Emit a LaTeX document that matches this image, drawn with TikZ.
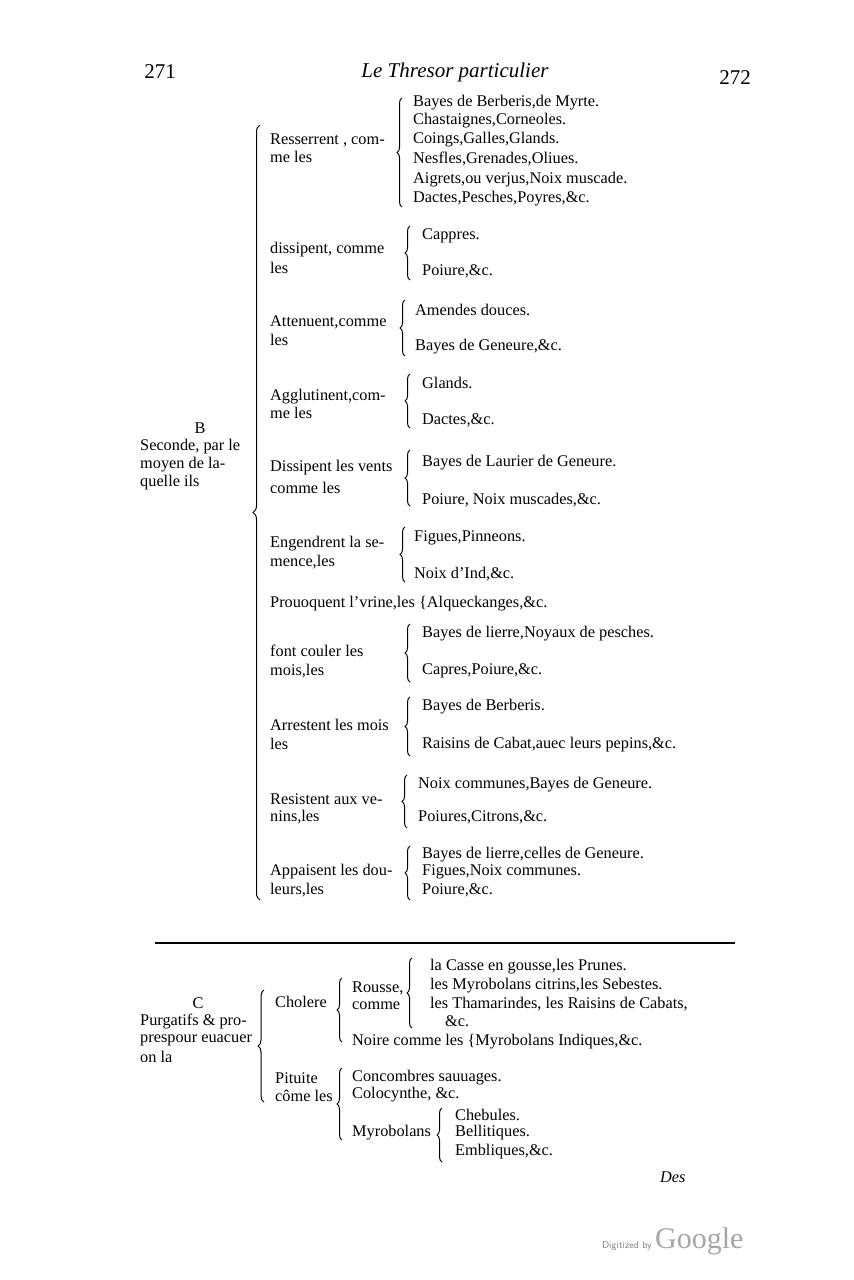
\documentclass[tikz,border=0pt]{standalone}
\usepackage{fontspec}
\setmainfont{Liberation Serif}
\usetikzlibrary{decorations.pathreplacing}
\begin{document}
\begin{tikzpicture}[x=1pt,y=-1pt,
  t/.style={anchor=west,inner sep=0pt,font=\fontsize{16.3}{17}\selectfont},
  br/.style={decorate,decoration={brace,amplitude=5pt},line width=1pt}]
\useasboundingbox (0,0) rectangle (854,1280);
\fill[white] (0,0) rectangle (854,1280);
\node[inner sep=0,font=\fontsize{21}{21}\selectfont] (p1) at (160,72) {271};
\node[inner sep=0,font=\fontsize{21}{21}\selectfont\itshape] (ti) at (455,72) {Le Thresor particulier};
\node[inner sep=0,font=\fontsize{21}{21}\selectfont] (p2) at (735,78) {272};
% B
\node[inner sep=0,font=\fontsize{16.3}{17}\selectfont] (B) at (200,428) {B};
\node[t] (b1) at (140,447) {Seconde, par le};
\node[t] (b2) at (140,465) {moyen de la-};
\node[t] (b3) at (140,483) {quelle ils};
\draw[br,decoration={amplitude=7pt}] (260,900) -- (260,125);
% groups
\node[t] (g1a) at (270,140) {Resserrent , com-};
\node[t] (g1b) at (270,157) {me les};
\draw[br] (402,207) -- (402,98);
\foreach \y/\s [count=\i] in {103/{Bayes de Berberis,de Myrte.},121/{Chastaignes,Corneoles.},140/{Coings,Galles,Glands.},159/{Nesfles,Grenades,Oliues.},180/{Aigrets,ou verjus,Noix muscade.},199/{Dactes,Pesches,Poyres,\&c.}}
  \node[t] (i1\i) at (413,\y) {\s};
\node[t] (g2a) at (270,250) {dissipent, comme};
\node[t] (g2b) at (270,268) {les};
\draw[br] (410,280) -- (410,226);
\node[t] (i21) at (422,236) {Cappres.};
\node[t] (i22) at (422,271) {Poiure,\&c.};
\node[t] (g3a) at (270,322) {Attenuent,comme};
\node[t] (g3b) at (270,340) {les};
\draw[br] (405,356) -- (405,300);
\node[t] (i31) at (415,310) {Amendes douces.};
\node[t] (i32) at (415,347) {Bayes de Geneure,\&c.};
\node[t] (g4a) at (270,397) {Agglutinent,com-};
\node[t] (g4b) at (270,413) {me les};
\draw[br] (410,428) -- (410,374);
\node[t] (i41) at (422,383) {Glands.};
\node[t] (i42) at (422,420) {Dactes,\&c.};
\node[t] (g5a) at (270,468) {Dissipent les vents};
\node[t] (g5b) at (270,488) {comme les};
\draw[br] (410,506) -- (410,450);
\node[t] (i51) at (422,463) {Bayes de Laurier de Geneure.};
\node[t] (i52) at (422,500) {Poiure, Noix muscades,\&c.};
\node[t] (g6a) at (270,544) {Engendrent la se-};
\node[t] (g6b) at (270,562) {mence,les};
\draw[br] (405,582) -- (405,527);
\node[t] (i61) at (414,538) {Figues,Pinneons.};
\node[t] (i62) at (414,574) {Noix d'Ind,\&c.};
\node[t] (g7) at (270,604) {Prouoquent l'vrine,les \{Alqueckanges,\&c.};
\node[t] (g8a) at (270,651) {font couler les};
\node[t] (g8b) at (270,671) {mois,les};
\draw[br] (410,682) -- (410,624);
\node[t] (i81) at (422,634) {Bayes de lierre,Noyaux de pesches.};
\node[t] (i82) at (422,671) {Capres,Poiure,\&c.};
\node[t] (g9a) at (270,725) {Arrestent les mois};
\node[t] (g9b) at (270,744) {les};
\draw[br] (410,756) -- (410,697);
\node[t] (i91) at (422,707) {Bayes de Berberis.};
\node[t] (i92) at (422,745) {Raisins de Cabat,auec leurs pepins,\&c.};
\node[t] (gAa) at (270,799) {Resistent aux ve-};
\node[t] (gAb) at (270,817) {nins,les};
\draw[br] (407,828) -- (407,775);
\node[t] (iA1) at (418,785) {Noix communes,Bayes de Geneure.};
\node[t] (iA2) at (418,817) {Poiures,Citrons,\&c.};
\node[t] (gBa) at (270,872) {Appaisent les dou-};
\node[t] (gBb) at (270,890) {leurs,les};
\draw[br] (410,900) -- (410,846);
\node[t] (iB1) at (422,855) {Bayes de lierre,celles de Geneure.};
\node[t] (iB2) at (422,872) {Figues,Noix communes.};
\node[t] (iB3) at (422,890) {Poiure,\&c.};
% rule
\draw[line width=1.5pt] (155,943) -- (735,943);
% C
\node[inner sep=0,font=\fontsize{16.3}{17}\selectfont] (C) at (198,1003) {C};
\node[t] (c1) at (140,1022) {Purgatifs \& pro-};
\node[t] (c2) at (140,1040) {prespour euacuer};
\node[t] (c3) at (140,1057) {on la};
\draw[br,decoration={amplitude=6pt}] (264,1102) -- (264,990);
\node[t] (ch) at (275,1002) {Cholere};
\draw[br] (342,1042) -- (342,978);
\node[t] (ro1) at (352,988) {Rousse,};
\node[t] (ro2) at (352,1006) {comme};
\draw[br] (412,1028) -- (412,958);
\node[t] (r1) at (430,967) {la Casse en gousse,les Prunes.};
\node[t] (r2) at (430,986) {les Myrobolans citrins,les Sebestes.};
\node[t] (r3) at (430,1004) {les Thamarindes, les Raisins de Cabats,};
\node[t] (r4) at (445,1021) {\&c.};
\node[t] (no) at (352,1042) {Noire comme les \{Myrobolans Indiques,\&c.};
\node[t] (pi1) at (275,1078) {Pituite};
\node[t] (pi2) at (275,1096) {côme les};
\draw[br] (342,1140) -- (342,1068);
\node[t] (p21) at (352,1078) {Concombres sauuages.};
\node[t] (p22) at (352,1095) {Colocynthe, \&c.};
\node[t] (my) at (352,1133) {Myrobolans};
\draw[br] (442,1162) -- (442,1108);
\node[t] (m1) at (455,1115) {Chebules.};
\node[t] (m2) at (455,1133) {Bellitiques.};
\node[t] (m3) at (455,1152) {Embliques,\&c.};
\node[t,font=\fontsize{16.3}{17}\selectfont\itshape] (des) at (660,1177) {Des};
\node[anchor=east,inner sep=0,text=gray,font=\fontsize{10}{10}\sffamily] (dg) at (652,1246) {Digitized by};
\node[anchor=west,inner sep=0,text=gray!70,font=\fontsize{30}{30}\selectfont] (gg) at (655,1241) {Google};
\end{tikzpicture}
\end{document}
